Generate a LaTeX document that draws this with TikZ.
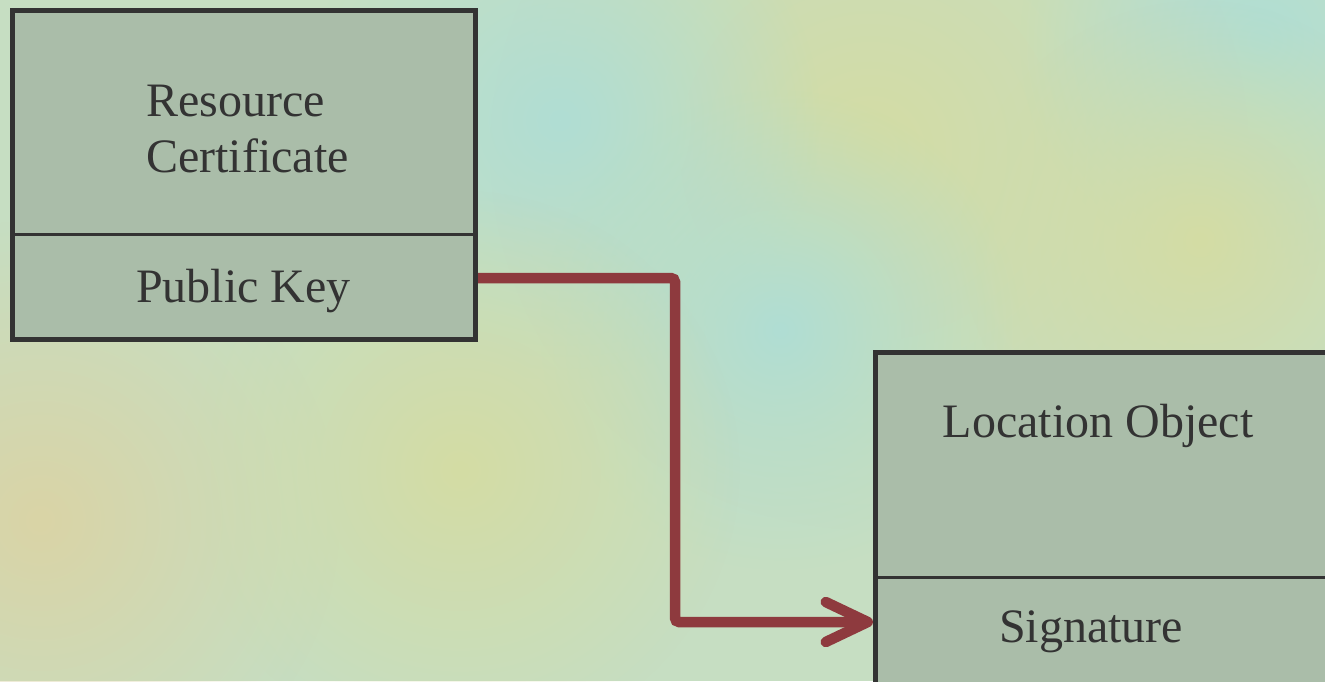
\documentclass[tikz,border=0pt]{standalone}
\usepackage{fontspec}
\setmainfont{Liberation Serif}
\usetikzlibrary{arrows.meta,calc,fadings}
\definecolor{bgbase}{RGB}{198,222,194}
\definecolor{bgyellow}{RGB}{212,220,164}
\definecolor{bgblue}{RGB}{176,222,212}
\definecolor{bgorange}{RGB}{218,212,166}
\definecolor{boxfill}{RGB}{170,189,169}
\definecolor{boxline}{RGB}{51,51,51}
\definecolor{textcol}{RGB}{51,51,51}
\definecolor{linkcol}{RGB}{142,58,62}
\tikzfading[name=softspot, inner color=transparent!0, outer color=transparent!100]
\begin{document}
\begin{tikzpicture}[x=1pt,y=-1pt,
  box/.style={draw=boxline, fill=boxfill, line width=5pt, rectangle, inner sep=0pt, outer sep=0pt, anchor=north west},
  divider/.style={draw=boxline, line width=3pt},
  lbl/.style={text=textcol, font=\fontsize{48}{56}\selectfont, inner sep=0pt},
  link/.style={draw=linkcol, line width=10.5pt, rounded corners=4pt, -{Straight Barb[length=42pt,width=40pt,round]}},
  patch/.style={fill=#1, path fading=softspot}]
\useasboundingbox (0,0) rectangle (1325,681);
\clip (0,0) rectangle (1325,681);
% background
\fill[bgbase] (0,0) rectangle (1325,681);
\fill[patch=bgyellow] (870,150) circle (380);
\fill[patch=bgblue] (560,120) circle (260);
\fill[patch=bgblue] (1260,40) circle (240);
\fill[patch=bgblue] (780,330) circle (240);
\fill[patch=bgorange] (40,520) circle (300);
\fill[patch=bgyellow] (460,470) circle (280);
\fill[patch=bgyellow] (1200,240) circle (240);
% resource certificate
\node[box, minimum width=463.5pt, minimum height=329pt] (cert) at (12,10) {};
\coordinate (certDivL) at ($(cert.north west)+(0,224)$);
\coordinate (certDivR) at ($(cert.north east)+(0,224)$);
\draw[divider] (certDivL) -- (certDivR);
\node[lbl, align=left, anchor=north west] (certName) at (146,85) {Resource\\Certificate};
\node[lbl, anchor=base] (certKey) at (243.5,302) {Public Key};
% location object
\node[box, minimum width=524.5pt, minimum height=407.5pt] (loc) at (875.5,352.5) {};
\coordinate (locDivL) at ($(loc.north west)+(0,224.5)$);
\coordinate (locDivR) at ($(loc.north east)+(0,224.5)$);
\draw[divider] (locDivL) -- (locDivR);
\node[lbl, anchor=base] (locName) at (1098,437) {Location Object};
\node[lbl, anchor=base] (locSig) at (1091,642) {Signature};
% connector
\coordinate (linkStart) at ($(cert.north east)+(2.5,268)$);
\coordinate (linkEnd) at ($(loc.north west)+(-2.5,269.5)$);
\draw[link] (linkStart) -- ++(197,0) |- (linkEnd);
\end{tikzpicture}
\end{document}
